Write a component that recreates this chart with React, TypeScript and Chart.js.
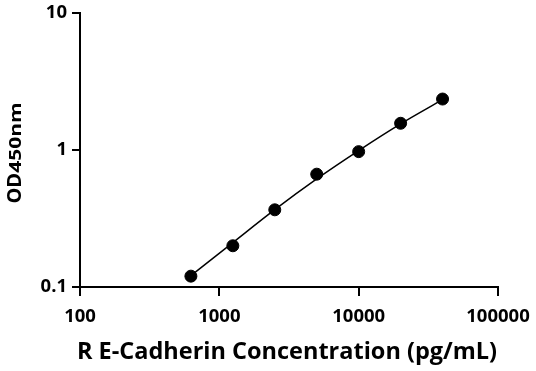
import React, { useEffect, useRef } from "react";
import { Chart, registerables } from "chart.js";

Chart.register(...registerables);

const concentrations = [625, 1250, 2500, 5000, 10000, 20000, 40000];
const odValues = [0.12, 0.2, 0.366, 0.666, 0.973, 1.567, 2.355];
const fitX = [625, 1250, 2500, 5000, 10000, 20000, 40000];
const fitY = [0.121, 0.211, 0.367, 0.615, 0.99, 1.55, 2.33];
const xTicks = [100, 1000, 10000, 100000];
const yTicks = [0.1, 1, 10];
const xTitle = "R E-Cadherin Concentration (pg/mL)";
const yTitleMain = "OD";
const yTitleSub = "450nm";

const FONT = "'Open Sans', sans-serif";

const titlePlugin = {
  id: "axisTitles",
  afterDraw(chart: any) {
    const ctx = chart.ctx;
    ctx.save();
    ctx.fillStyle = "#000";
    // x title
    ctx.font = `bold 23.5px ${FONT}`;
    ctx.textAlign = "center";
    ctx.textBaseline = "alphabetic";
    ctx.fillText(xTitle, 287, 359);
    // y title rotated
    ctx.translate(21, 153);
    ctx.rotate(-Math.PI / 2);
    ctx.font = `bold 20px ${FONT}`;
    const w1 = ctx.measureText(yTitleMain).width;
    ctx.font = `bold 21px ${FONT}`;
    const w2 = ctx.measureText(yTitleSub).width;
    const start = -(w1 + w2) / 2;
    ctx.textAlign = "left";
    ctx.font = `bold 20px ${FONT}`;
    ctx.fillText(yTitleMain, start, 0);
    ctx.font = `bold 21px ${FONT}`;
    ctx.save();
    ctx.translate(start + w1, 0);
    ctx.scale(1, 0.75);
    ctx.fillText(yTitleSub, 0, 0);
    ctx.restore();
    ctx.restore();
  },
};

export default function App() {
  const ref = useRef<HTMLCanvasElement | null>(null);
  useEffect(() => {
    if (!ref.current) return;
    const chart = new Chart(ref.current, {
      type: "scatter",
      data: {
        datasets: [
          {
            type: "line",
            data: fitX.map((x, i) => ({ x, y: fitY[i] })),
            borderColor: "#000",
            borderWidth: 1.5,
            pointRadius: 0,
            cubicInterpolationMode: "monotone",
            fill: false,
            order: 2,
          } as any,
          {
            type: "scatter",
            data: concentrations.map((x, i) => ({ x, y: odValues[i] })),
            backgroundColor: "#000",
            borderColor: "#000",
            pointRadius: 6,
            pointHoverRadius: 6,
            order: 1,
          },
        ],
      },
      options: {
        responsive: false,
        animation: false,
        events: [],
        layout: { padding: { top: 13, right: 38, left: 0, bottom: 0 } },
        plugins: { legend: { display: false }, tooltip: { enabled: false } },
        scales: {
          x: {
            type: "logarithmic",
            min: 100,
            max: 100000,
            afterBuildTicks: (s: any) => {
              s.ticks = xTicks.map((v) => ({ value: v }));
            },
            afterFit: (s: any) => {
              s.height = 84;
              s.paddingLeft = 0;
              s.paddingRight = 0;
            },
            ticks: {
              callback: (v: any) => String(v),
              color: "#000",
              font: { family: FONT, size: 18.5, weight: "bold" },
              padding: 10,
              maxRotation: 0,
              autoSkip: false,
            },
            grid: {
              drawOnChartArea: false,
              drawTicks: true,
              tickLength: 9,
              color: "#000",
              lineWidth: 2,
            },
            border: { color: "#000", width: 2 },
          },
          y: {
            type: "logarithmic",
            min: 0.1,
            max: 10,
            afterBuildTicks: (s: any) => {
              s.ticks = yTicks.map((v) => ({ value: v }));
            },
            afterFit: (s: any) => {
              s.width = 80;
              s.paddingTop = 0;
              s.paddingBottom = 0;
            },
            ticks: {
              callback: (v: any) => String(v),
              color: "#000",
              font: { family: FONT, size: 18.5, weight: "bold" },
              padding: 5,
              autoSkip: false,
            },
            grid: {
              drawOnChartArea: false,
              drawTicks: true,
              tickLength: 8,
              color: "#000",
              lineWidth: 2,
            },
            border: { color: "#000", width: 2 },
          },
        },
      },
      plugins: [titlePlugin],
    });
    return () => chart.destroy();
  }, []);
  return (
    <div style={{ position: "fixed", left: 0, top: 0, width: 536, height: 371, background: "#fff" }}>
      <canvas ref={ref} width={536} height={371} />
    </div>
  );
}
